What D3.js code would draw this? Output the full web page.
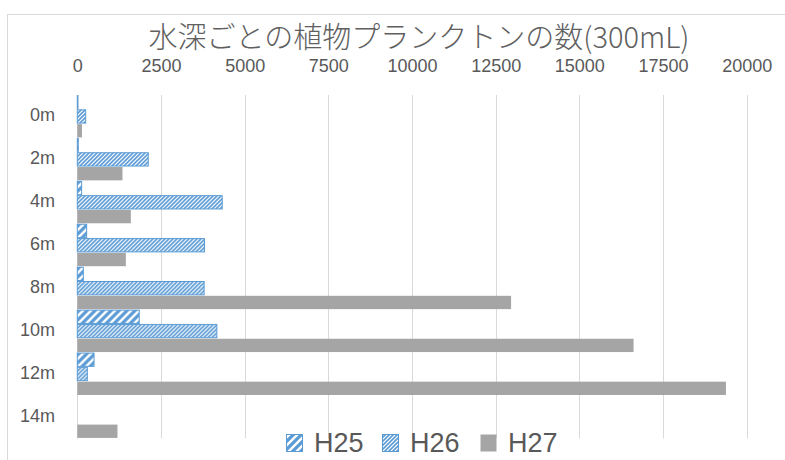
<!DOCTYPE html>
<html>
<head>
<meta charset="utf-8">
<script src="https://cdn.jsdelivr.net/npm/d3@7"></script>
<style>
  body { margin: 0; background: #fff; }
  text { font-family: "Liberation Sans", Arial, sans-serif; fill: #595959; }
</style>
</head>
<body>
<div id="chart"></div>
<script>
var svgWidth = 785;
var svgHeight = 460;

// data
var depths = ["0m", "2m", "4m", "6m", "8m", "10m", "12m", "14m"];
var seriesNames = ["H25", "H26", "H27"];
var h25 = [20, 30, 130, 280, 180, 1850, 500, 0];
var h26 = [250, 2120, 4330, 3800, 3790, 4170, 300, 0];
var h27 = [140, 1350, 1600, 1450, 12960, 16620, 19380, 1200];
var xTicks = [0, 2500, 5000, 7500, 10000, 12500, 15000, 17500, 20000];

var plot = { left: 77.3, right: 746.7, top: 95, bottom: 438.4 };

var svg = d3.select("#chart")
  .append("svg")
  .attr("width", svgWidth)
  .attr("height", svgHeight);

// hatch patterns
var defs = svg.append("defs");

var wide = defs.append("pattern")
  .attr("id", "wideDiag")
  .attr("patternUnits", "userSpaceOnUse")
  .attr("width", 8)
  .attr("height", 8);
wide.append("rect").attr("width", 8).attr("height", 8).attr("fill", "#fff");
wide.append("path")
  .attr("d", "M-2,2 L2,-2 M0,8 L8,0 M6,10 L10,6")
  .attr("stroke", "#5b9bd5")
  .attr("stroke-width", 3.2);

var dense = defs.append("pattern")
  .attr("id", "denseDiag")
  .attr("patternUnits", "userSpaceOnUse")
  .attr("width", 4)
  .attr("height", 4);
dense.append("rect").attr("width", 4).attr("height", 4).attr("fill", "#fff");
dense.append("path")
  .attr("d", "M-1,1 L1,-1 M0,4 L4,0 M3,5 L5,3")
  .attr("stroke", "#5b9bd5")
  .attr("stroke-width", 1.6);

var fills = { H25: "url(#wideDiag)", H26: "url(#denseDiag)", H27: "#a5a5a5" };
var strokes = { H25: "#5b9bd5", H26: "#5b9bd5", H27: "none" };

// outer chart border (cropped by the window)
svg.append("rect")
  .attr("x", 7.5)
  .attr("y", 14.5)
  .attr("width", 800)
  .attr("height", 460)
  .attr("fill", "none")
  .attr("stroke", "#d9d9d9");

// title
svg.append("text")
  .attr("x", 419)
  .attr("y", 48)
  .attr("text-anchor", "middle")
  .style("font-family", "'Noto Sans CJK JP', 'Liberation Sans', sans-serif")
  .style("font-weight", "300")
  .style("font-size", "29px")
  .style("fill", "#606060")
  .text("水深ごとの植物プランクトンの数(300mL)");

// scales
var xScale = d3.scaleLinear()
  .domain([0, 20000])
  .range([plot.left, plot.right]);

var yScale = d3.scaleBand()
  .domain(depths)
  .range([plot.top, plot.bottom])
  .padding(0);

var ySub = d3.scaleBand()
  .domain(seriesNames)
  .range([0, yScale.bandwidth()])
  .padding(0);

// gridlines
svg.append("g")
  .selectAll("line")
  .data(xTicks)
  .enter()
  .append("line")
  .attr("x1", d => Math.round(xScale(d)) + 0.5)
  .attr("x2", d => Math.round(xScale(d)) + 0.5)
  .attr("y1", plot.top)
  .attr("y2", plot.bottom)
  .attr("stroke", "#d9d9d9")
  .attr("stroke-width", 1);

// top value axis (labels only)
var topAxis = d3.axisTop(xScale)
  .tickValues(xTicks)
  .tickFormat(d3.format("d"))
  .tickSize(0)
  .tickPadding(0);

var xAxis = svg.append("g")
  .attr("transform", "translate(0, 71.5)")
  .call(topAxis);
xAxis.select(".domain").remove();
xAxis.selectAll("text")
  .attr("fill", "#595959")
  .style("font-family", "'Liberation Sans', Arial, sans-serif")
  .style("font-size", "18px");

// category labels
svg.append("g")
  .selectAll("text")
  .data(depths)
  .enter()
  .append("text")
  .attr("x", 55)
  .attr("y", d => yScale(d) + yScale.bandwidth() / 2 + 5)
  .attr("text-anchor", "end")
  .style("font-size", "18px")
  .text(d => d);

// bars
var table = depths.map(function(d, i) {
  return { depth: d, H25: h25[i], H26: h26[i], H27: h27[i] };
});

var groups = svg.append("g")
  .selectAll("g")
  .data(table)
  .enter()
  .append("g")
  .attr("transform", d => `translate(0, ${yScale(d.depth)})`);

groups.selectAll("rect")
  .data(d => seriesNames.map(k => ({ key: k, value: d[k] })))
  .enter()
  .filter(d => d.value > 0)
  .append("rect")
  .attr("x", xScale(0))
  .attr("y", d => ySub(d.key) + 0.5)
  .attr("width", d => Math.max(xScale(d.value) - xScale(0), 0.5))
  .attr("height", ySub.bandwidth() - 1)
  .attr("fill", d => fills[d.key])
  .attr("stroke", d => strokes[d.key])
  .attr("stroke-width", 1);

// legend
var legendX = [286, 382, 480];
var legend = svg.append("g")
  .selectAll("g")
  .data(seriesNames)
  .enter()
  .append("g")
  .attr("transform", (d, i) => `translate(${legendX[i]}, 434)`);

legend.append("rect")
  .attr("x", 0.5)
  .attr("y", 0.5)
  .attr("width", 16)
  .attr("height", 17)
  .attr("fill", d => fills[d])
  .attr("stroke", d => strokes[d]);

legend.append("text")
  .attr("x", 28)
  .attr("y", 18)
  .style("font-size", "27px")
  .text(d => d);
</script>
</body>
</html>
